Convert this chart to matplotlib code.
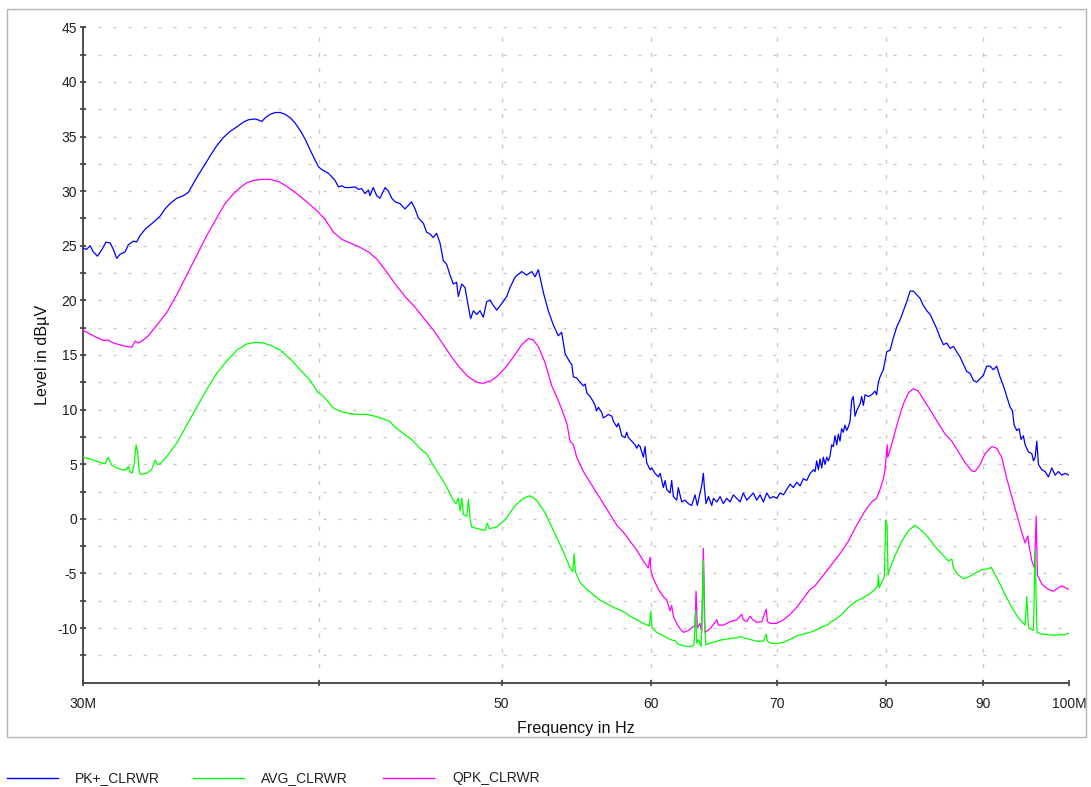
import matplotlib
matplotlib.use("Agg")
import matplotlib.pyplot as plt
from matplotlib.lines import Line2D
from matplotlib.patches import Rectangle
from matplotlib.ticker import FixedLocator, FixedFormatter, NullLocator

plt.rcParams['font.family'] = ['Liberation Sans', 'DejaVu Sans']
plt.rcParams['lines.scale_dashes'] = False
plt.rcParams['axes.unicode_minus'] = False

# ---------------- data (MHz, dBuV) ----------------
pk_freq = [30.00, 30.12, 30.25, 30.37, 30.52, 30.68, 30.84, 31.00, 31.12, 31.25, 31.37, 31.57, 31.70, 31.89,
           32.02, 32.15, 32.35, 32.55, 32.75, 32.95, 33.15, 33.35, 33.63, 33.90, 34.11, 34.31, 34.52, 34.81,
           35.02, 35.31, 35.60, 35.89, 36.19, 36.48, 36.71, 37.01, 37.16, 37.31, 37.46, 37.69, 37.92, 38.16,
           38.39, 38.63, 38.86, 39.10, 39.34, 39.58, 39.82, 39.98, 40.15, 40.31,
           40.47, 40.64, 40.80, 40.97, 41.14, 41.31, 41.55, 41.81, 41.98, 42.15, 42.32, 42.50, 42.58, 42.75,
           42.93, 43.10, 43.37, 43.55, 43.73, 43.91, 44.17, 44.44, 44.62, 44.80, 44.99, 45.17, 45.45, 45.63,
           45.82, 46.00, 46.19, 46.38, 46.57, 46.76, 46.95, 47.14, 47.33, 47.43, 47.63, 47.82, 48.02, 48.15,
           48.31, 48.51, 48.70, 48.90, 49.10, 49.30, 49.50, 49.71, 50.01, 50.32, 50.52, 50.84, 51.25, 51.56,
           51.88, 52.09, 52.30, 52.63, 52.94, 53.27, 53.59, 53.81, 54.04,
           54.37, 54.48, 54.59, 54.81, 55.03, 55.26, 55.38, 55.49, 55.71, 55.94, 56.05, 56.16, 56.28, 56.51,
           56.62, 56.81, 56.97, 57.21, 57.33, 57.56, 57.67, 57.79, 57.91, 58.14, 58.26, 58.38, 58.62, 58.86,
           58.98, 59.10, 59.22, 59.46, 59.58, 59.70, 59.95, 60.07, 60.31, 60.56, 60.69, 60.93, 61.06, 61.18,
           61.43, 61.55, 61.68, 61.93, 62.05, 62.31, 62.56, 62.82, 63.07, 63.33, 63.51, 63.72, 63.85, 63.98,
           64.06, 64.19, 64.38, 64.64, 64.77, 65.04, 65.30, 65.56, 65.83, 66.10, 66.37, 66.64, 66.91, 67.18,
           67.46, 67.73, 68.01, 68.29, 68.57, 68.85, 69.13, 69.41, 69.69, 69.98, 70.26, 70.55, 70.84, 71.13,
           71.42, 71.71, 72.00, 72.29, 72.59, 72.89, 73.19,
           73.33, 73.48, 73.63, 73.78, 73.93, 74.08, 74.23, 74.38, 74.54, 74.69, 74.84, 74.99, 75.14, 75.30,
           75.45, 75.60, 75.75, 75.91, 76.06, 76.22, 76.37, 76.53, 76.69, 76.84, 77.00, 77.16, 77.32, 77.48,
           77.63, 77.79, 77.95, 78.27, 78.58, 78.90, 79.06, 79.23, 79.39, 79.55, 79.71, 79.88, 80.04, 80.37,
           80.70, 81.03, 81.36, 81.69, 82.02, 82.36, 82.69, 83.03, 83.36, 83.70, 84.05, 84.40, 84.74, 85.08,
           85.43, 85.78, 86.13, 86.48, 86.83, 87.19, 87.55, 87.90, 88.26, 88.62, 88.98, 89.34, 89.71, 90.07,
           90.44, 90.81, 91.18, 91.55, 91.92, 92.30, 92.68, 93.06, 93.33, 93.52, 93.82, 94.09, 94.31, 94.58,
           94.78, 95.17, 95.56, 95.75, 95.95, 96.14, 96.34, 96.73, 97.13, 97.52, 97.92, 98.32, 98.72, 99.13,
           99.53, 100.0]
pk_level = [24.77, 24.67, 25.00, 24.44, 24.05, 24.61, 25.33, 25.26, 24.67, 23.85, 24.21, 24.44, 25.10, 25.42,
            25.36, 25.92, 26.50, 26.90, 27.29, 27.71, 28.37, 28.86, 29.35, 29.58, 29.90, 30.66, 31.47, 32.46,
            33.21, 34.16, 34.91, 35.47, 35.89, 36.32, 36.54, 36.61, 36.51, 36.38, 36.71, 37.03, 37.20, 37.20,
            37.03, 36.71, 36.22, 35.56, 34.75, 33.76, 32.85, 32.23, 31.97, 31.80,
            31.64, 31.31, 30.98, 30.39, 30.49, 30.33, 30.33, 30.39, 30.17, 30.23, 29.77, 30.10, 29.58, 30.33,
            29.58, 29.35, 30.33, 30.00, 29.35, 29.02, 28.86, 28.37, 28.69, 29.02, 28.37, 27.55, 27.06, 26.24,
            26.08, 25.75, 26.14, 25.26, 23.63, 23.30, 22.32, 21.50, 21.66, 20.36, 21.50, 21.17, 19.37, 18.33,
            19.05, 18.72, 19.05, 18.46, 19.87, 20.03, 19.54, 19.11, 19.70, 20.36, 21.17, 22.15, 22.64, 22.32,
            22.64, 22.15, 22.81, 20.68, 19.05, 17.74, 16.76, 17.08, 15.12,
            14.30, 14.14, 12.99, 12.90, 12.51, 12.18, 12.34, 11.53, 11.20, 10.71, 10.38, 9.89, 10.22, 9.73,
            9.24, 9.40, 9.56, 9.40, 8.91, 8.42, 8.75, 8.25, 7.60, 7.44, 7.93, 7.44, 7.11, 6.78,
            6.46, 6.78, 6.62, 5.64, 6.62, 5.15, 4.49, 4.66, 4.17, 3.84, 4.17, 2.86, 3.51, 2.69,
            2.37, 3.51, 2.04, 1.71, 2.86, 1.55, 1.71, 1.39, 1.22, 2.20, 1.22, 2.37, 3.02, 4.17,
            2.86, 1.39, 2.04, 1.22, 1.88, 1.55, 2.04, 1.39, 1.88, 1.55, 2.20, 1.88, 1.55, 2.37,
            1.71, 2.04, 2.37, 1.71, 2.20, 1.55, 2.37, 1.88, 2.04, 1.88, 2.37, 2.20, 2.69, 3.18,
            2.86, 3.35, 3.02, 3.68, 3.51, 4.17, 4.49,
            4.33, 5.31, 4.49, 5.48, 4.66, 5.64, 4.98, 5.64, 5.31, 5.80, 6.78, 6.62, 7.60, 6.78,
            7.76, 7.11, 8.25, 7.93, 8.58, 8.09, 8.42, 8.91, 10.87, 11.20, 9.40, 9.89, 10.22, 10.54,
            11.20, 10.38, 11.36, 11.20, 11.36, 11.69, 11.36, 12.51, 12.99, 13.32, 13.65, 14.47, 15.29, 15.45,
            16.59, 17.58, 18.23, 19.05, 19.87, 20.85, 20.85, 20.52, 20.19, 19.54, 19.05, 18.72, 18.07, 17.41,
            16.59, 15.94, 16.10, 15.61, 15.78, 15.29, 14.80, 14.14, 13.49, 13.32, 12.67, 12.51, 12.83, 13.16,
            13.98, 13.98, 13.65, 13.98, 12.99, 12.18, 11.20, 10.22, 9.89, 8.58, 8.09, 8.25, 7.27, 7.60,
            6.78, 6.13, 5.97, 5.31, 5.64, 7.11, 4.98, 4.49, 4.33, 3.84, 4.66, 4.00, 4.33, 4.00,
            4.17, 4.00]

avg_freq = [30.00, 30.25, 30.62, 30.81, 30.93, 31.06, 31.25, 31.50, 31.63, 31.70, 31.76, 31.85, 31.92, 32.00,
            32.06, 32.12, 32.18, 32.41, 32.61, 32.75, 32.84, 32.95, 33.22, 33.63, 34.04, 34.46, 34.88, 35.31,
            35.75, 36.19, 36.63, 37.01, 37.38, 37.77, 38.16, 38.63, 39.10, 39.58, 39.98, 40.15,
            40.72, 41.14, 41.55, 41.98, 42.41, 42.84, 43.28, 43.64, 43.82, 44.26, 44.80, 45.36, 45.63, 45.91,
            46.29, 46.67, 47.14, 47.29, 47.43, 47.53, 47.63, 47.72, 47.92, 48.02, 48.12, 48.21, 48.60, 49.00,
            49.14, 49.26, 49.71, 50.22, 50.84, 51.35, 51.77, 52.19, 52.73, 53.38, 53.93,
            54.37, 54.55, 54.63, 54.72, 55.03, 55.49, 55.94, 56.39, 56.86, 57.33, 57.79, 58.14, 58.26, 58.50,
            58.98, 59.46, 59.90, 60.00, 60.09, 60.44, 60.93, 61.43, 61.88, 61.98, 62.43, 62.95, 63.25, 63.38,
            63.46, 63.59, 63.80, 63.90, 63.98, 64.06, 64.17, 64.51, 65.04, 65.56, 66.10, 66.64, 67.05, 67.18,
            67.73, 68.29, 68.85, 69.08, 69.19, 69.41, 69.98, 70.55, 71.13, 71.71, 72.29, 72.89,
            73.33, 73.93, 74.54, 74.69, 75.14, 75.75, 76.37, 77.00, 77.63, 78.27, 78.90, 79.16, 79.23, 79.32,
            79.55, 79.81, 79.94, 80.08, 80.17, 80.37, 80.86, 81.52, 82.19, 82.86, 83.53, 84.22, 84.91, 85.60,
            86.30, 86.66, 86.83, 87.37, 87.90, 88.44, 89.16, 89.89, 90.62, 90.92, 91.18, 91.73, 92.49, 93.25,
            94.01, 94.78, 94.97, 95.17, 95.37, 95.75, 95.95, 96.07, 96.18, 96.73, 97.52, 98.32, 98.92, 99.33,
            100.0]
avg_level = [5.64, 5.48, 5.15, 5.05, 5.64, 4.92, 4.66, 4.49, 4.49, 4.82, 4.33, 4.17, 4.98, 6.78,
             6.13, 4.33, 4.07, 4.17, 4.49, 5.38, 4.98, 5.05, 5.70, 6.95, 8.58, 10.22, 11.85, 13.32,
             14.47, 15.45, 16.01, 16.17, 16.10, 15.84, 15.45, 14.63, 13.65, 12.67, 11.52, 11.36,
             10.15, 9.79, 9.63, 9.56, 9.56, 9.40, 9.14, 8.91, 8.52, 7.93, 7.27, 6.29, 5.97, 5.15,
             4.17, 3.18, 1.71, 1.39, 1.88, 0.73, 1.88, 0.40, 0.24, 1.78, -0.09, -0.74, -0.90, -1.07,
             -0.41, -0.90, -0.74, -0.09, 1.22, 1.88, 2.11, 1.71, 0.57, -1.39, -3.03,
             -4.50, -4.83, -3.19, -4.83, -5.81, -6.46, -6.95, -7.44, -7.77, -8.10, -8.36, -8.59, -8.69, -8.92,
             -9.24, -9.57, -9.80, -8.42, -9.99, -10.39, -10.71, -11.04, -11.20, -11.43, -11.63, -11.70, -11.53, -8.42,
             -11.37, -11.04, -11.70, -7.93, -3.80, -9.41, -11.53, -11.37, -11.20, -11.04, -10.97, -10.88, -10.78, -10.88,
             -11.04, -11.20, -11.20, -10.55, -11.20, -11.37, -11.43, -11.30, -11.04, -10.71, -10.55, -10.39,
             -10.22, -9.90, -9.67, -9.47, -9.24, -8.75, -8.10, -7.61, -7.28, -6.95, -6.46, -6.14, -5.15, -6.30,
             -5.81, -5.32, -0.09, -0.58, -5.15, -4.50, -3.36, -2.05, -1.07, -0.58, -1.07, -1.72, -2.54, -3.19,
             -3.85, -3.68, -4.50, -5.15, -5.48, -5.32, -4.99, -4.66, -4.57, -4.43, -4.83, -5.65, -6.95, -8.10,
             -9.08, -9.73, -7.12, -9.90, -10.06, -10.22, -2.86, -7.44, -10.39, -10.55, -10.62, -10.65, -10.58, -10.65,
             -10.45]

qpk_freq = [30.00, 30.37, 30.74, 30.93, 31.12, 31.50, 31.83, 31.96, 32.09, 32.22, 32.48, 32.82, 33.22, 33.63,
            34.04, 34.46, 34.88, 35.31, 35.67, 36.04, 36.34, 36.63, 36.93, 37.31, 37.69, 38.07, 38.47, 38.94,
            39.42, 39.91, 40.31,
            40.72, 41.14, 41.55, 41.98, 42.50, 42.93, 43.37, 43.91, 44.44, 44.99, 45.54, 46.10, 46.57, 47.05,
            47.53, 48.02, 48.51, 48.90, 49.40, 49.81, 50.32, 50.84, 51.25, 51.67, 51.98, 52.30, 52.73, 53.16,
            53.48, 53.81, 54.15,
            54.37, 54.59, 54.81, 55.26, 55.71, 56.16, 56.62, 57.09, 57.56, 58.03, 58.50, 58.98, 59.46, 59.82,
            59.95, 60.02, 60.19, 60.56, 60.93, 61.18, 61.43, 61.55, 61.68, 61.93, 62.18, 62.43, 62.82, 63.07,
            63.33, 63.41, 63.51, 63.72, 63.85, 63.98, 64.11, 64.51, 65.04, 65.17, 65.56, 66.10, 66.64, 67.05,
            67.18, 67.46, 67.73, 67.96, 68.29, 68.71, 69.08, 69.19, 69.41, 69.98, 70.55, 71.13, 71.71, 72.29,
            72.89,
            73.33, 74.08, 74.84, 75.60, 76.37, 77.16, 77.95, 78.58, 79.06, 79.39, 79.71, 79.88, 79.98, 80.08,
            80.14, 80.37, 80.70, 81.19, 81.69, 82.19, 82.69, 83.19, 83.88, 84.57, 85.26, 85.95, 86.66, 87.37,
            88.08, 88.80, 89.16, 89.71, 90.26, 90.99, 91.55, 92.11, 92.68, 93.25, 93.82, 94.39, 94.78, 95.09,
            95.25, 95.56, 95.87, 96.07, 96.22, 96.73, 97.52, 98.12, 98.72, 99.13, 99.53, 100.0]
qpk_level = [17.25, 16.76, 16.33, 16.37, 16.10, 15.84, 15.71, 16.27, 16.10, 16.27, 16.76, 17.74, 18.88, 20.52,
             22.32, 24.12, 25.92, 27.55, 28.86, 29.77, 30.33, 30.76, 30.98, 31.08, 31.08, 30.89, 30.43, 29.77,
             29.02, 28.20, 27.40,
             26.24, 25.59, 25.26, 24.93, 24.44, 23.79, 22.81, 21.50, 20.36, 19.37, 18.23, 17.08, 15.94, 14.80,
             13.81, 12.99, 12.51, 12.41, 12.67, 13.16, 13.98, 15.06, 15.94, 16.50, 16.37, 15.78, 14.30, 12.18,
             11.20, 10.05, 8.74,
             7.11, 6.78, 5.64, 4.33, 3.35, 2.37, 1.39, 0.40, -0.58, -1.23, -2.05, -2.86, -3.85, -4.50,
             -3.52, -4.83, -5.48, -6.46, -7.12, -7.44, -8.42, -7.93, -8.92, -9.57, -10.06, -10.39, -10.22, -9.99,
             -9.73, -6.63, -9.99, -9.57, -10.39, -2.70, -10.39, -10.06, -9.24, -9.73, -9.73, -9.41, -9.24, -8.75,
             -9.24, -9.41, -8.92, -9.24, -9.47, -9.41, -8.26, -9.41, -9.57, -9.57, -9.24, -8.75, -8.10, -7.28,
             -6.46,
             -6.14, -5.15, -4.17, -3.19, -2.05, -0.58, 0.73, 1.55, 1.88, 2.69, 3.68, 4.49, 5.64, 6.78,
             5.64, 6.29, 7.44, 9.07, 10.54, 11.53, 11.92, 11.69, 10.71, 9.73, 8.74, 7.76, 7.11, 6.13,
             5.15, 4.39, 4.33, 4.98, 5.97, 6.62, 6.46, 5.64, 3.68, 2.04, 0.40, -1.23, -2.21, -1.56,
             -2.54, -3.85, -4.50, 0.24, -5.15, -5.97, -6.46, -6.63, -6.30, -6.14, -6.30, -6.46]

series_names = ["PK+_CLRWR", "AVG_CLRWR", "QPK_CLRWR"]
series_colors = ["#0000ff", "#00ff00", "#ff00ff"]

x_ticks = [30, 40, 50, 60, 70, 80, 90, 100]
x_tick_labels = ["30M", "", "50", "60", "70", "80", "90", "100M"]
x_grid = [40, 50, 60, 70, 80, 90]
y_ticks = [45, 40, 35, 30, 25, 20, 15, 10, 5, 0, -5, -10]
y_minor = [42.5, 37.5, 32.5, 27.5, 22.5, 17.5, 12.5, 7.5, 2.5, -2.5, -7.5, -12.5]

# ---------------- figure ----------------
W, H = 1091, 787
fig = plt.figure(figsize=(W / 100, H / 100), dpi=100)
fig.patch.set_facecolor("white")

def fx(px):
    return px / W

def fy(py):
    return 1 - py / H

ax_l, ax_r, ax_t, ax_b = 83.3, 1069.0, 27.3, 682.7
ax = fig.add_axes([fx(ax_l), fy(ax_b), fx(ax_r - ax_l), (ax_b - ax_t) / H])

ax.set_xscale("log")
ax.set_xlim(30, 100)
ax.set_ylim(-15, 45)

# grid
for yv in y_ticks + y_minor:
    ax.axhline(yv, color="#c8c8c8", lw=1.0, dashes=(2.2, 8.6), zorder=0.5)
for xv in x_grid:
    ax.axvline(xv, color="#cbcbcb", lw=1.0, dashes=(3.0, 8.0), zorder=0.5)

ax.plot(pk_freq, pk_level, color=series_colors[0], lw=0.9, zorder=3)
ax.plot(qpk_freq, qpk_level, color=series_colors[2], lw=0.9, zorder=4)
ax.plot(avg_freq, avg_level, color=series_colors[1], lw=0.9, zorder=5)

# axes styling
for s in ["top", "right"]:
    ax.spines[s].set_visible(False)
for s in ["left", "bottom"]:
    ax.spines[s].set_color("#404040")
    ax.spines[s].set_linewidth(1.3)

ax.xaxis.set_major_locator(FixedLocator(x_ticks))
ax.xaxis.set_major_formatter(FixedFormatter(x_tick_labels))
ax.xaxis.set_minor_locator(NullLocator())
ax.yaxis.set_major_locator(FixedLocator(y_ticks))
ax.yaxis.set_minor_locator(FixedLocator(y_minor))
ax.tick_params(axis="both", which="both", direction="inout", length=5, width=1.1,
               color="#303030", labelsize=10, labelcolor="#202020")
ax.tick_params(axis="x", pad=8)
ax.tick_params(axis="y", pad=2)

ax.set_xlabel("Frequency in Hz", fontsize=11.6, labelpad=7, color="#101010")
ax.set_ylabel("Level in dBµV", fontsize=11.6, labelpad=4.8, color="#101010")

# outer border
fig.add_artist(Rectangle((fx(7), fy(737)), fx(1086 - 7), (737 - 9) / H, fill=False,
                         edgecolor="#b4b4b4", lw=1.0, transform=fig.transFigure))

# legend (below chart)
leg_y = 778
leg_items = [(7, 58, 75), (193, 244, 261), (383, 434, 452)]
for (x0, x1, xt), name, col in zip(leg_items, series_names, series_colors):
    fig.add_artist(Line2D([fx(x0), fx(x1)], [fy(leg_y), fy(leg_y)], color=col, lw=1.0,
                          transform=fig.transFigure))
    fig.text(fx(xt), fy(leg_y), name, fontsize=10, va="center", ha="left", color="#202020")

fig.savefig("out.png", dpi=100)
